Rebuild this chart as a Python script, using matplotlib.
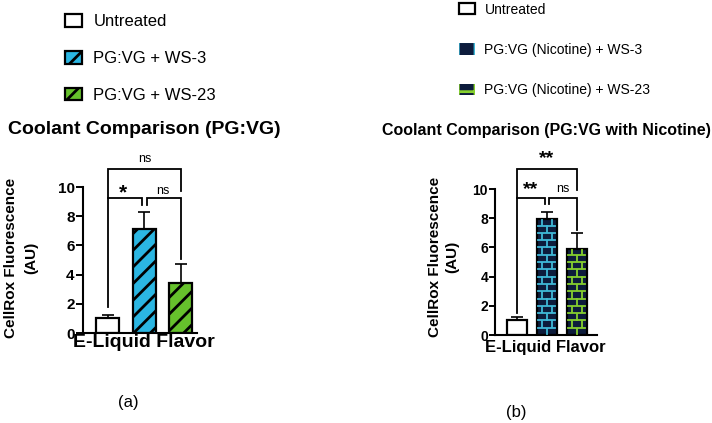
import matplotlib
matplotlib.use("Agg")
import matplotlib.pyplot as plt
from matplotlib.patches import Patch

plt.rcParams['font.family'] = ['Liberation Sans', 'DejaVu Sans']
plt.rcParams['hatch.linewidth'] = 2.0

# dados
groups = ['Untreated', 'WS-3', 'WS-23']
mean_a = [1.0, 7.1, 3.4]
err_a = [0.25, 1.2, 1.3]
labels_a = ['Untreated', 'PG:VG + WS-3', 'PG:VG + WS-23']

mean_b = [1.0, 7.95, 5.9]
err_b = [0.25, 0.5, 1.1]
labels_b = ['Untreated', 'PG:VG (Nicotine) + WS-3', 'PG:VG (Nicotine) + WS-23']

yticks = [0, 2, 4, 6, 8, 10]

cyan = '#2bb6e2'
green = '#66c12c'
navy = '#0d1c3c'
brick_cyan = '#3fb9d8'
brick_green = '#86d02e'

W, H = 712, 423
fig = plt.figure(figsize=(W / 100, H / 100), dpi=100)


def px_axes(left, right, y0, y10):
    return fig.add_axes([left / W, 1 - y0 / H, (right - left) / W, (y0 - y10) / H])


def style_axes(ax, tick_fs, tick_len):
    ax.set_ylim(0, 10)
    ax.set_yticks(yticks)
    ax.set_xticks([])
    for s in ['top', 'right']:
        ax.spines[s].set_visible(False)
    ax.spines['left'].set_linewidth(1.5)
    ax.spines['bottom'].set_linewidth(1.5)
    ax.tick_params(axis='y', length=tick_len, width=1.4, labelsize=tick_fs, pad=1)
    for t in ax.get_yticklabels():
        t.set_fontweight('bold')


def bracket(ax, x1, x2, y, leg1, leg2, lw=1.3):
    ax.plot([x1, x1, x2, x2], [leg1, y, y, leg2], color='black', lw=lw,
            clip_on=False, solid_joinstyle='miter')


def bricks(ax, xc, w, top, color, row=0.5):
    x0, x1 = xc - w / 2, xc + w / 2
    y = 0.0
    k = 0
    while y < top - 0.05:
        yn = min(y + row, top)
        if k % 2 == 0:
            xs = [xc]
        else:
            xs = [xc - w / 4, xc + w / 4]
        for xv in xs:
            ax.plot([xv, xv], [y + 0.06, yn - 0.06], color=color, lw=1.3, zorder=3)
        if yn < top - 0.05:
            ax.plot([x0 + 0.05, x1 - 0.05], [yn, yn], color=color, lw=1.3, zorder=3)
        y = yn
        k += 1


# ---------------- painel (a) ----------------
ax1 = px_axes(83, 197, 333, 187)
x = [0, 1, 2]
ax1.set_xlim(-0.685, 2.44)
w1 = 0.63
ax1.bar(x, mean_a, width=w1, color=['white', cyan, green], edgecolor='black',
        linewidth=1.6, hatch=['', '//', '//'], zorder=2)
ax1.errorbar(x, mean_a, yerr=[[0, 0, 0], err_a], fmt='none', ecolor='black',
             elinewidth=1.2, capsize=4, capthick=1.2, zorder=1)
style_axes(ax1, 11, 5)

bracket(ax1, 0, 1 - 0.08, 9.25, 1.8, 8.8)
bracket(ax1, 1 + 0.08, 2, 9.25, 8.8, 5.1)
bracket(ax1, 0, 2, 11.25, 9.25, 9.7)
ax1.text(0.42, 9.6, '*', ha='center', va='center', fontsize=15, fontweight='bold')
ax1.text(1.5, 9.75, 'ns', ha='center', va='center', fontsize=9)
ax1.text(1.0, 11.9, 'ns', ha='center', va='center', fontsize=9)
ax1.text(0.535, -0.068, 'E-Liquid Flavor', transform=ax1.transAxes, ha='center',
         va='center', fontsize=14, fontweight='bold')

fig.text(21 / W, 1 - 258 / H, 'CellRox Fluorescence\n(AU)', rotation=90, ha='center',
         va='center', fontsize=11, fontweight='bold', multialignment='center', linespacing=1.55)
fig.text(144 / W, 1 - 130 / H, 'Coolant Comparison (PG:VG)', ha='center', va='center',
         fontsize=14, fontweight='bold')
fig.text(128 / W, 1 - 402 / H, '(a)', ha='center', va='center', fontsize=12)

handles_a = [Patch(facecolor='white', edgecolor='black', lw=1.6),
             Patch(facecolor=cyan, edgecolor='black', lw=1.6, hatch='//'),
             Patch(facecolor=green, edgecolor='black', lw=1.6, hatch='//')]
fig.legend(handles_a, labels_a, loc='upper left', bbox_to_anchor=(50 / W, 1 + 1 / H),
           frameon=False, fontsize=12, labelspacing=1.3, handlelength=1.0,
           handleheight=0.8, handletextpad=0.7)

# ---------------- painel (b) ----------------
ax2 = px_axes(495, 597, 335, 189)
ax2.set_xlim(-0.73, 2.67)
w2 = 0.67
ax2.bar(x, mean_b, width=w2, color=['white', navy, navy], edgecolor='black',
        linewidth=1.6, zorder=2)
ax2.errorbar(x, mean_b, yerr=[[0, 0, 0], err_b], fmt='none', ecolor='black',
             elinewidth=1.2, capsize=4, capthick=1.2, zorder=1)
bricks(ax2, x[1], w2, mean_b[1], brick_cyan)
bricks(ax2, x[2], w2, mean_b[2], brick_green)
style_axes(ax2, 10, 4)

bracket(ax2, 0, 1 - 0.08, 9.4, 1.5, 9.0)
bracket(ax2, 1 + 0.08, 2, 9.4, 9.0, 7.2)
bracket(ax2, 0, 2, 11.4, 9.4, 9.9)
ax2.text(0.45, 9.95, '**', ha='center', va='center', fontsize=14, fontweight='bold')
ax2.text(1.53, 10.0, 'ns', ha='center', va='center', fontsize=9)
ax2.text(1.0, 12.1, '**', ha='center', va='center', fontsize=14, fontweight='bold')
ax2.text(0.49, -0.089, 'E-Liquid Flavor', transform=ax2.transAxes, ha='center',
         va='center', fontsize=12, fontweight='bold')

fig.text(444 / W, 1 - 257 / H, 'CellRox Fluorescence\n(AU)', rotation=90, ha='center',
         va='center', fontsize=11, fontweight='bold', multialignment='center', linespacing=1.3)
fig.text(546 / W, 1 - 130 / H, 'Coolant Comparison (PG:VG with Nicotine)', ha='center',
         va='center', fontsize=11.5, fontweight='bold')
fig.text(516 / W, 1 - 412 / H, '(b)', ha='center', va='center', fontsize=12)

handles_b = [Patch(facecolor='white', edgecolor='black', lw=1.6),
             Patch(facecolor=navy, edgecolor=brick_cyan, lw=0, hatch='+'),
             Patch(facecolor=navy, edgecolor=brick_green, lw=0, hatch='+')]
fig.legend(handles_b, labels_b, loc='upper left', bbox_to_anchor=(447 / W, 1 + 10 / H),
           frameon=False, fontsize=10, labelspacing=1.9, handlelength=1.1,
           handleheight=0.9, handletextpad=0.7)

fig.savefig('out.png', dpi=100)
